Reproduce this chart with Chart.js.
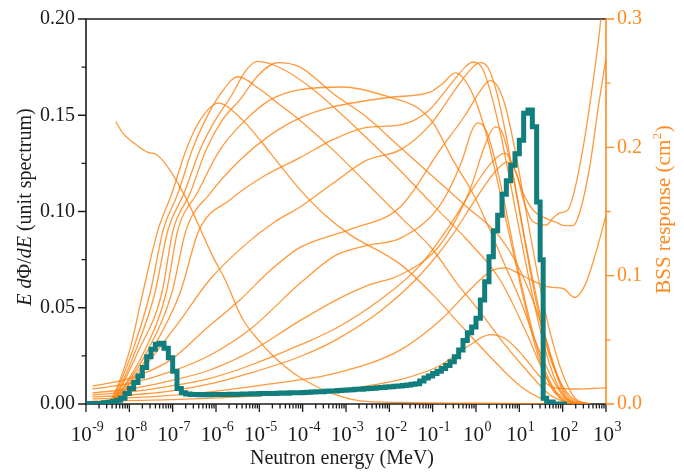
<!DOCTYPE html>
<html>
<head>
<meta charset="utf-8">
<script src="https://cdn.jsdelivr.net/npm/chart.js@4.4.0/dist/chart.umd.min.js"></script>
<style>
  html, body { margin: 0; padding: 0; background: #fff; }
  #wrap { width: 684px; height: 472px; }
</style>
</head>
<body>
<div id="wrap"><canvas id="chart" width="684" height="472"></canvas></div>
<script>
// axis ticks
const decades    = [-9, -8, -7, -6, -5, -4, -3, -2, -1, 0, 1, 2, 3];
const leftTicks  = [0, 0.05, 0.10, 0.15, 0.20];
const rightTicks = [0, 0.1, 0.2, 0.3];

// neutron spectrum, E dPhi/dE per bin: [log10 of lower bin edge (MeV), value]
const thermalBins = [[-9.0,0],[-8.6,.0003],[-8.5,.0006],[-8.4,.0009],[-8.3,.0013],[-8.2,.002],[-8.1,.003],[-8.0,.0055],
  [-7.9,.008],[-7.8,.0112],[-7.7,.0145],[-7.6,.019],[-7.5,.0246],[-7.4,.0285],[-7.3,.031],[-7.2,.0315],[-7.1,.029],
  [-7.0,.024],[-6.9,.017],[-6.8,.008],[-6.7,.0058],[-6.6,.0052],[-6.5,.005]];
const epithermalBins = [[-6.4,.0049],[-6.3,.0048],[-6.2,.0049],[-6.1,.0048],[-6.0,.0049],[-5.9,.005],[-5.8,.0049],
  [-5.7,.005],[-5.6,.0051],[-5.5,.005],[-5.4,.0051],[-5.3,.0052],[-5.2,.0052],[-5.1,.0053],[-5.0,.0052],[-4.9,.0054],
  [-4.8,.0054],[-4.7,.0055],[-4.6,.0055],[-4.5,.0056],[-4.4,.0057],[-4.3,.0056],[-4.2,.0058],[-4.1,.0059],[-4.0,.0059],
  [-3.9,.006],[-3.8,.0061],[-3.7,.0062],[-3.6,.0063],[-3.5,.0064],[-3.4,.0066],[-3.3,.0067],[-3.2,.0068],[-3.1,.007],
  [-3.0,.0071],[-2.9,.0073],[-2.8,.0074],[-2.7,.0076],[-2.6,.0077],[-2.5,.0079],[-2.4,.008],[-2.3,.0082],[-2.2,.0084],
  [-2.1,.0086],[-2.0,.0088],[-1.9,.009],[-1.8,.0092],[-1.7,.0094],[-1.6,.0096],[-1.5,.0099],[-1.4,.0102]];
const fastBins = [[-1.3,.0105],[-1.2,.012],[-1.1,.0135],[-1.0,.0145],[-0.9,.0158],[-0.8,.017],[-0.7,.0185],[-0.6,.02],
  [-0.5,.022],[-0.4,.0246],[-0.3,.028],[-0.2,.033],[-0.1,.037],[0.0,.04],[0.1,.0445],[0.2,.054],[0.3,.0635],[0.4,.0765],
  [0.5,.09],[0.6,.098],[0.7,.109],[0.8,.116],[0.9,.124],[1.0,.13],[1.1,.137],[1.2,.151],[1.3,.1527],[1.4,.144],
  [1.48,.105],[1.55,.075],[1.63,.003],[1.78,.001],[1.95,0],[2.1,0]];

// BSS response functions (cm2): [log10 E (MeV), response]
const bare = [[-8.31,.220],[-8.15,.211],[-7.92,.204],[-7.57,.196],[-7.41,.195],[-7.29,.192],[-7.06,.182],[-6.83,.169],
  [-6.6,.154],[-6.37,.137],[-6.09,.116],[-5.79,.097],[-5.4,.067],[-5.0,.049],[-4.7,.038],[-4.4,.029],[-4.08,.021],
  [-3.7,.014],[-3.39,.009],[-2.68,.0025],[-1.75,.0012],[0,.0006],[2,0]];
const sph1 = [[-8.52,0],[-8.40,.0047],[-7.99,.042],[-7.69,.0865],[-7.34,.1355],[-7.02,.164],[-6.69,.198],[-6.37,.221],
  [-5.95,.2345],[-5.38,.221],[-4.92,.203],[-4.52,.186],[-4.06,.167],[-3.48,.147],[-2.91,.132],[-1.75,.109],[-0.99,.085],
  [-0.37,.062],[0.32,.037],[1.02,.014],[1.59,.003],[1.94,0]];
const sph2 = [[-8.49,0],[-8.38,.0047],[-7.92,.042],[-7.52,.0865],[-7.22,.1355],[-6.88,.164],[-6.55,.198],[-6.25,.221],
  [-5.91,.241],[-5.49,.255],[-4.98,.245],[-4.52,.233],[-4.06,.221],[-3.30,.198],[-2.52,.172],[-1.75,.146],[-0.99,.120],
  [-0.44,.094],[0.09,.072],[0.67,.046],[1.25,.023],[1.71,.007],[2.17,0]];
const sph3 = [[-8.47,0],[-8.35,.0047],[-7.85,.042],[-7.41,.0865],[-7.11,.1355],[-6.74,.164],[-6.37,.198],[-6.02,.221],
  [-5.63,.241],[-5.33,.259],[-5.05,.267],[-4.52,.262],[-3.83,.247],[-3.14,.227],[-2.45,.205],[-1.75,.182],[-0.99,.155],
  [-0.21,.128],[0.55,.097],[1.13,.058],[1.59,.023],[1.94,.0047],[2.17,0]];
const sph4 = [[-8.45,0],[-8.33,.0047],[-7.78,.042],[-7.25,.0865],[-6.99,.1355],[-6.60,.164],[-6.23,.198],[-5.86,.221],
  [-5.45,.237],[-5.03,.256],[-4.57,.266],[-4.06,.2625],[-3.30,.242],[-2.52,.2235],[-1.75,.200],[-0.99,.177],
  [-0.21,.1535],[0.55,.130],[1.02,.104],[1.48,.065],[1.82,.0265],[2.05,.007],[2.28,0]];
const sph5 = [[-8.42,0],[-8.31,.0047],[-7.64,.042],[-7.15,.0865],[-6.88,.1355],[-6.44,.164],[-5.91,.198],[-5.33,.221],
  [-4.75,.237],[-4.06,.245],[-3.07,.247],[-1.98,.239],[-1.36,.231],[-0.99,.219],[-0.53,.190],[-0.07,.164],[0.25,.141],
  [0.67,.108],[1.02,.081],[1.36,.050],[1.71,.023],[2.05,.0047],[2.40,0]];
const sph6 = [[-8.40,0],[-8.29,.0047],[-7.57,.042],[-7.02,.0865],[-6.69,.1355],[-6.14,.164],[-5.45,.190],[-4.75,.2095],
  [-4.06,.223],[-3.30,.2315],[-1.98,.239],[-1.06,.243],[-0.76,.250],[-0.48,.258],[-0.25,.252],[-0.02,.237],[0.21,.2135],
  [0.44,.182],[0.67,.147],[0.90,.112],[1.13,.077],[1.36,.046],[1.59,.023],[1.82,.0086],[2.05,.0023],[2.28,0]];
const sph7 = [[-8.38,0],[-8.26,.0047],[-7.48,.042],[-6.83,.0865],[-6.39,.1355],[-5.68,.159],[-4.87,.178],[-4.06,.192],
  [-3.30,.206],[-2.52,.2155],[-1.75,.2175],[-1.13,.2275],[-0.60,.2485],[-0.25,.2625],[-0.07,.2665],[0.14,.262],
  [0.32,.245],[0.55,.2135],[0.78,.1745],[1.02,.132],[1.25,.093],[1.48,.058],[1.71,.030],[1.94,.011],[2.17,.0023],[2.40,0]];
const sph8 = [[-8.35,0],[-8.24,.0047],[-7.53,.034],[-6.83,.065],[-6.14,.097],[-5.33,.124],[-4.64,.142],[-4.06,.1535],
  [-3.30,.172],[-2.52,.190],[-1.75,.198],[-1.06,.2175],[-0.48,.245],[-0.14,.260],[0.09,.266],[0.28,.262],[0.46,.245],
  [0.67,.2135],[0.90,.171],[1.13,.128],[1.36,.089],[1.59,.054],[1.82,.028],[2.05,.0094],[2.28,.0016],[2.52,0]];
const sph9 = [[-8.85,.014],[-7.99,.020],[-7.06,.034],[-6.25,.058],[-5.45,.081],[-4.75,.104],[-4.06,.122],[-2.91,.136],
  [-1.75,.1535],[-0.83,.198],[-0.25,.225],[0.14,.246],[0.32,.252],[0.48,.2485],[0.67,.233],[0.90,.198],[1.13,.155],
  [1.36,.112],[1.59,.073],[1.82,.042],[2.05,.019],[2.28,.0047],[2.63,0]];
const sph10 = [[-8.85,.0117],[-7.99,.016],[-7.06,.025],[-6.14,.038],[-5.22,.058],[-4.06,.094],[-3.23,.116],[-2.45,.124],
  [-1.75,.129],[-0.83,.155],[-0.32,.190],[-0.09,.2135],[0.05,.219],[0.23,.2135],[0.44,.190],[0.67,.155],[0.90,.116],
  [1.13,.081],[1.36,.050],[1.59,.0265],[1.82,.011],[2.17,.0016],[2.52,0]];
const sph11 = [[-8.85,.0086],[-7.99,.0117],[-7.06,.018],[-6.14,.0265],[-5.22,.0405],[-4.06,.065],[-3.23,.081],[-2.45,.093],
  [-1.75,.1005],[-0.83,.124],[-0.14,.167],[0.21,.202],[0.44,.216],[0.60,.212],[0.78,.190],[1.02,.147],[1.25,.104],
  [1.48,.065],[1.71,.036],[1.98,.015],[2.28,.003],[2.63,0]];
const ext1 = [[-8.85,.007],[-7.99,.0094],[-7.06,.014],[-6.14,.020],[-5.22,.030],[-4.06,.046],[-3.23,.059],[-2.22,.081],
  [-1.29,.108],[-0.60,.1395],[-0.02,.1705],[0.37,.1885],[0.67,.1955],[0.90,.182],[1.08,.165],[1.32,.151],[1.59,.145],
  [1.82,.142],[2.05,.139],[2.24,.139],[2.40,.150],[2.63,.186],[2.82,.231],[3.0,.2695]];
const ext2 = [[-8.85,.0055],[-7.99,.007],[-7.06,.010],[-6.14,.0156],[-5.22,.024],[-4.06,.037],[-3.23,.050],[-2.22,.072],
  [-1.29,.1005],[-0.60,.129],[-0.02,.159],[0.44,.181],[0.72,.1885],[0.85,.1855],[0.97,.176],[1.08,.1605],[1.32,.142],
  [1.62,.1395],[1.78,.145],[1.94,.149],[2.10,.1505],[2.24,.162],[2.47,.1995],[2.70,.251],[2.88,.300],[2.95,.33]];
const ext3 = [[-8.85,.004],[-7.52,.0055],[-6.14,.0094],[-4.75,.0156],[-3.23,.024],[-1.75,.042],[-0.83,.065],[-0.14,.089],
  [0.32,.103],[0.67,.106],[0.97,.102],[1.25,.097],[1.71,.091],[2.01,.090],[2.28,.083],[2.52,.093],[2.75,.116],[3.0,.147]];
const ext4 = [[-8.85,.0023],[-7.52,.003],[-5.22,.006],[-3.23,.011],[-1.75,.019],[-0.83,.030],[-0.14,.046],[0.32,.054],
  [0.67,.051],[1.02,.040],[1.36,.026],[1.59,.017],[1.82,.0125],[2.28,.0117],[3.0,.0125]];

const responses = [bare, sph1, sph2, sph3, sph4, sph5, sph6, sph7, sph8, sph9, sph10, sph11, ext1, ext2, ext3, ext4];

const teal   = '#0F7E7C';
const orange = '#FF8A1F';
const lineOrange = 'rgba(255,128,10,0.8)';
const ink    = '#1b1b1b';
const serif  = '"Liberation Serif", "Times New Roman", serif';

const toPts = arr => arr.map(p => ({ x: Math.pow(10, p[0]), y: p[1] }));

const datasets = [{
  label: 'spectrum',
  data: toPts(thermalBins.concat(epithermalBins, fastBins)),
  yAxisID: 'y',
  showLine: true,
  stepped: 'after',
  borderColor: teal,
  borderWidth: 5,
  pointRadius: 0,
  borderJoinStyle: 'miter',
  order: 0
}];
responses.forEach((r, i) => datasets.push({
  label: 'bss' + i,
  data: toPts(r),
  yAxisID: 'y2',
  showLine: true,
  cubicInterpolationMode: 'monotone',
  borderColor: lineOrange,
  borderWidth: 1.3,
  pointRadius: 0,
  order: 1
}));

// frame, tick marks, x tick labels and axis titles
const decor = {
  id: 'decor',
  beforeDatasetsDraw(chart) {
    const { ctx, chartArea: a, scales } = chart;
    const x = scales.x, yl = scales.y, yr = scales.y2;
    ctx.save();
    ctx.lineCap = 'butt';
    ctx.strokeStyle = ink;
    ctx.lineWidth = 1.6;
    ctx.beginPath();
    ctx.moveTo(a.right, a.top); ctx.lineTo(a.left, a.top);
    ctx.lineTo(a.left, a.bottom); ctx.lineTo(a.right, a.bottom);
    ctx.stroke();

    ctx.lineWidth = 1.3;
    ctx.beginPath();
    decades.forEach(d => {
      const px = x.getPixelForValue(Math.pow(10, d));
      ctx.moveTo(px, a.bottom); ctx.lineTo(px, a.bottom + 8);
      if (d < 3) for (let m = 2; m < 10; m++) {
        const pm = x.getPixelForValue(m * Math.pow(10, d));
        ctx.moveTo(pm, a.bottom); ctx.lineTo(pm, a.bottom + 4.5);
      }
    });
    leftTicks.forEach((v, i) => {
      const py = yl.getPixelForValue(v);
      ctx.moveTo(a.left, py); ctx.lineTo(a.left - 8, py);
      if (i > 0) {
        const pm = yl.getPixelForValue(v - 0.025);
        ctx.moveTo(a.left, pm); ctx.lineTo(a.left - 4.5, pm);
      }
    });
    ctx.stroke();

    ctx.strokeStyle = orange;
    ctx.lineWidth = 1.6;
    ctx.beginPath();
    ctx.moveTo(a.right, a.top); ctx.lineTo(a.right, a.bottom);
    ctx.stroke();
    ctx.lineWidth = 1.3;
    ctx.beginPath();
    rightTicks.forEach((v, i) => {
      const py = yr.getPixelForValue(v);
      ctx.moveTo(a.right, py); ctx.lineTo(a.right + 8, py);
      if (i > 0) {
        const pm = yr.getPixelForValue(v - 0.05);
        ctx.moveTo(a.right, pm); ctx.lineTo(a.right + 4.5, pm);
      }
    });
    ctx.stroke();
    ctx.restore();
  },
  afterDraw(chart) {
    const { ctx, chartArea: a, scales } = chart;
    const x = scales.x;
    ctx.save();
    ctx.fillStyle = ink;
    ctx.textBaseline = 'alphabetic';

    // 10^n labels
    decades.forEach(d => {
      const px = x.getPixelForValue(Math.pow(10, d));
      const ex = d < 0 ? '-' + (-d) : String(d);
      ctx.font = '21px ' + serif;
      const w1 = ctx.measureText('10').width;
      ctx.font = '14px ' + serif;
      const w2 = ctx.measureText(ex).width;
      const x0 = px - (w1 + w2) / 2 + 1;
      ctx.font = '21px ' + serif;
      ctx.fillText('10', x0, a.bottom + 37);
      ctx.font = '14px ' + serif;
      ctx.fillText(ex, x0 + w1 + 0.5, a.bottom + 27);
    });

    // x title
    ctx.font = '20px ' + serif;
    ctx.textAlign = 'center';
    ctx.fillText('Neutron energy (MeV)', (a.left + a.right) / 2 - 4, a.bottom + 60);

    // left title, mixed italic
    const parts = [['E', 'italic'], [' ', 'normal'], ['d', 'italic'], ['\u03A6', 'normal'], ['/', 'normal'],
                   ['dE', 'italic'], [' (unit spectrum)', 'normal']];
    ctx.textAlign = 'left';
    let total = 0;
    parts.forEach(p => { ctx.font = p[1] + ' 20px ' + serif; total += ctx.measureText(p[0]).width; });
    ctx.translate(31, 207);
    ctx.rotate(-Math.PI / 2);
    let cx = -total / 2;
    parts.forEach(p => {
      ctx.font = p[1] + ' 20px ' + serif;
      ctx.fillText(p[0], cx, 0);
      cx += ctx.measureText(p[0]).width;
    });
    ctx.setTransform(1, 0, 0, 1, 0, 0);

    // right title
    ctx.fillStyle = orange;
    ctx.font = '21px ' + serif;
    const t1 = 'BSS response (cm', t3 = ')';
    const w1 = ctx.measureText(t1).width, w3 = ctx.measureText(t3).width;
    ctx.font = '13px ' + serif;
    const w2 = ctx.measureText('2').width;
    const tw = w1 + w2 + w3;
    ctx.translate(670, 210);
    ctx.rotate(-Math.PI / 2);
    ctx.font = '21px ' + serif;
    ctx.fillText(t1, -tw / 2, 0);
    ctx.font = '13px ' + serif;
    ctx.fillText('2', -tw / 2 + w1 + 0.5, -9);
    ctx.font = '21px ' + serif;
    ctx.fillText(t3, -tw / 2 + w1 + w2 + 1, 0);
    ctx.restore();
  }
};

new Chart(document.getElementById('chart'), {
  type: 'scatter',
  data: { datasets },
  options: {
    responsive: false,
    devicePixelRatio: 1,
    animation: false,
    layout: { padding: { top: 19, left: 0, right: 0, bottom: 0 } },
    plugins: { legend: { display: false }, tooltip: { enabled: false } },
    scales: {
      x: {
        type: 'logarithmic',
        min: 1e-9, max: 1e3,
        grid: { display: false },
        border: { display: false },
        ticks: { display: false },
        afterFit: s => { s.height = 68; }
      },
      y: {
        position: 'left',
        min: 0, max: 0.2,
        grid: { display: false, drawTicks: true, tickLength: 8 },
        border: { display: false },
        ticks: {
          stepSize: 0.05, padding: 3, color: ink,
          font: { family: serif, size: 20 },
          callback: v => v.toFixed(2)
        },
        afterBuildTicks: s => { s.ticks = leftTicks.map(v => ({ value: v })); },
        afterFit: s => { s.width = 86; }
      },
      y2: {
        position: 'right',
        min: 0, max: 0.3,
        grid: { display: false, drawTicks: true, tickLength: 8 },
        border: { display: false },
        ticks: {
          stepSize: 0.1, padding: 3, color: orange,
          font: { family: serif, size: 20 },
          callback: v => v.toFixed(1)
        },
        afterBuildTicks: s => { s.ticks = rightTicks.map(v => ({ value: v })); },
        afterFit: s => { s.width = 78; }
      }
    }
  },
  plugins: [decor]
});
</script>
</body>
</html>
